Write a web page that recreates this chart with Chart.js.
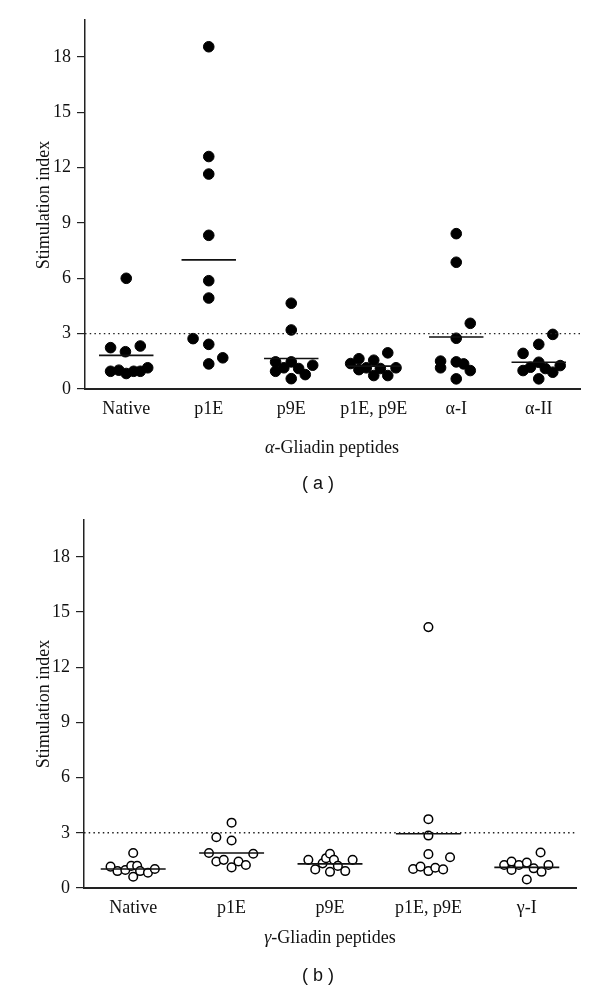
<!DOCTYPE html>
<html>
<head>
<meta charset="utf-8">
<script src="https://cdn.jsdelivr.net/npm/chart.js@4"></script>
<style>
  body { margin: 0; background: #fff; }
  #page { position: relative; width: 600px; height: 998px; overflow: hidden; background: #fff; }
  canvas { position: absolute; left: 0; }
  .ytitle, .xtitle, .caption { position: absolute; white-space: nowrap; color: #111; }
  .ytitle, .xtitle { font-family: "Liberation Serif", serif; font-size: 18px; }
  .ytitle { transform: translate(-50%, -50%) rotate(-90deg); }
  .xtitle { transform: translate(-50%, -50%); }
  .caption { font-family: "Liberation Sans", sans-serif; font-size: 18px; transform: translate(-50%, -50%); }
</style>
</head>
<body>
<div id="page">
  <canvas id="chartA" width="600" height="470" style="top:0"></canvas>
  <canvas id="chartB" width="600" height="470" style="top:500px"></canvas>
  <div class="ytitle" style="left:43px; top:205px">Stimulation index</div>
  <div class="xtitle" style="left:332px; top:447px"><i>α</i>-Gliadin peptides</div>
  <div class="caption" style="left:318px; top:483px">( a )</div>
  <div class="ytitle" style="left:43px; top:704px">Stimulation index</div>
  <div class="xtitle" style="left:330px; top:937px"><i>γ</i>-Gliadin peptides</div>
  <div class="caption" style="left:318px; top:975px">( b )</div>
</div>
<script>
// y axis ticks (both panels)
const yTicks = [0, 3, 6, 9, 12, 15, 18];
const threshold = 3;

// (a) alpha-gliadin peptides
const alphaLabels = ['Native', 'p1E', 'p9E', 'p1E, p9E', 'α-I', 'α-II'];
const alphaNative = [6.0, 2.24, 2.02, 2.33, 0.96, 1.02, 0.84, 0.96, 0.96, 1.15];
const alphaP1E = [18.55, 12.6, 11.65, 8.33, 5.87, 4.93, 2.73, 2.42, 1.69, 1.36];
const alphaP9E = [4.65, 3.2, 1.47, 1.47, 1.29, 0.96, 1.15, 1.11, 0.78, 0.56];
const alphaP1EP9E = [1.38, 1.64, 1.05, 1.15, 1.56, 0.73, 1.11, 1.96, 0.73, 1.15];
const alphaI = [8.42, 6.87, 3.56, 2.75, 1.51, 1.15, 1.47, 1.36, 1.0, 0.55];
const alphaII = [2.96, 2.42, 1.93, 1.45, 1.0, 1.18, 1.11, 0.91, 1.27, 0.55];
const alphaMeans = [1.82, 7.0, 1.65, 1.24, 2.82, 1.45];
// horizontal scatter of the dots inside each category (in category units)
const alphaJitter = [
  [0, -0.19, -0.01, 0.17, -0.19, -0.09, 0, 0.09, 0.17, 0.26],
  [0, 0, 0, 0, 0, 0, -0.19, 0, 0.17, 0],
  [0, 0, -0.19, 0, 0.26, -0.19, -0.09, 0.09, 0.17, 0],
  [-0.28, -0.18, -0.18, -0.09, 0, 0, 0.08, 0.17, 0.17, 0.27],
  [0, 0, 0.17, 0, -0.19, -0.19, 0, 0.09, 0.17, 0],
  [0.17, 0, -0.19, 0, -0.19, -0.1, 0.08, 0.17, 0.26, 0]
];

// (b) gamma-gliadin peptides
const gammaLabels = ['Native', 'p1E', 'p9E', 'p1E, p9E', 'γ-I'];
const gammaNative = [1.90, 1.16, 0.92, 0.98, 1.20, 1.20, 0.92, 0.61, 0.83, 1.03];
const gammaP1E = [3.55, 2.76, 2.58, 1.90, 1.86, 1.44, 1.53, 1.12, 1.44, 1.25];
const gammaP9E = [1.53, 1.01, 1.34, 1.62, 1.86, 0.88, 1.53, 1.20, 0.92, 1.53];
const gammaP1EP9E = [14.18, 3.74, 2.85, 1.84, 1.67, 1.03, 1.16, 0.92, 1.10, 1.01];
const gammaI = [1.93, 1.25, 1.44, 0.98, 1.25, 1.38, 1.07, 0.88, 1.25, 0.46];
const gammaMeans = [1.03, 1.90, 1.31, 2.95, 1.12];
const gammaJitter = [
  [0, -0.23, -0.16, -0.08, -0.02, 0.04, 0.07, 0, 0.15, 0.22],
  [0, -0.155, 0, -0.23, 0.22, -0.155, -0.08, 0, 0.07, 0.145],
  [-0.22, -0.15, -0.075, -0.04, 0, 0, 0.04, 0.08, 0.155, 0.23],
  [0, 0, 0, 0, 0.22, -0.155, -0.08, 0, 0.07, 0.15],
  [0.14, -0.23, -0.155, -0.155, -0.08, 0, 0.07, 0.15, 0.22, 0]
];

const serif = 'Liberation Serif';

function makePanel(canvasId, labels, groups, jitter, means, cfg) {
  const points = [];
  groups.forEach((vals, i) => {
    vals.forEach((v, j) => points.push({ x: i + jitter[i][j], y: v }));
  });

  const meanLine = [];
  means.forEach((m, i) => {
    meanLine.push({ x: i - 0.33, y: m }, { x: i + 0.33, y: m }, { x: i, y: null });
  });

  const n = labels.length;

  return new Chart(document.getElementById(canvasId), {
    type: 'scatter',
    data: {
      datasets: [
        {
          data: meanLine,
          showLine: true,
          spanGaps: false,
          borderColor: '#111',
          borderWidth: 1.6,
          pointRadius: 0
        },
        {
          data: [{ x: -0.5, y: threshold }, { x: n - 0.5, y: threshold }],
          showLine: true,
          borderColor: '#222',
          borderWidth: 1.4,
          borderDash: [1.5, 3.2],
          pointRadius: 0
        },
        {
          data: points,
          pointRadius: cfg.radius,
          pointBackgroundColor: cfg.fill,
          pointBorderColor: '#000',
          pointBorderWidth: cfg.border
        }
      ]
    },
    options: {
      responsive: false,
      animation: false,
      layout: { padding: { left: 0, right: cfg.right, top: 20, bottom: 0 } },
      plugins: { legend: { display: false }, tooltip: { enabled: false } },
      scales: {
        x: {
          type: 'linear',
          min: -0.5,
          max: n - 0.5,
          afterBuildTicks: s => { s.ticks = labels.map((_, i) => ({ value: i })); },
          afterFit: s => { s.height = cfg.xHeight; },
          grid: { drawOnChartArea: false, drawTicks: false },
          border: { color: '#222', width: 2 },
          ticks: {
            autoSkip: false,
            maxRotation: 0,
            padding: 9,
            color: '#111',
            font: { family: serif, size: 18 },
            callback: v => labels[v]
          }
        },
        y: {
          min: 0,
          max: 20,
          afterBuildTicks: s => { s.ticks = yTicks.map(v => ({ value: v })); },
          afterFit: s => { s.width = cfg.yWidth; },
          grid: { drawOnChartArea: false, drawTicks: true, tickLength: 8, color: '#222', lineWidth: 1.2 },
          border: { color: '#222', width: 1.5 },
          ticks: {
            padding: 6,
            color: '#111',
            font: { family: serif, size: 18 }
          }
        }
      }
    }
  });
}

makePanel('chartA', alphaLabels,
  [alphaNative, alphaP1E, alphaP9E, alphaP1EP9E, alphaI, alphaII],
  alphaJitter, alphaMeans,
  { radius: 5.3, fill: '#000', border: 1, right: 20, xHeight: 81, yWidth: 85 });

makePanel('chartB', gammaLabels,
  [gammaNative, gammaP1E, gammaP9E, gammaP1EP9E, gammaI],
  gammaJitter, gammaMeans,
  { radius: 4.3, fill: '#fff', border: 1.5, right: 24, xHeight: 82, yWidth: 84 });
</script>
</body>
</html>
